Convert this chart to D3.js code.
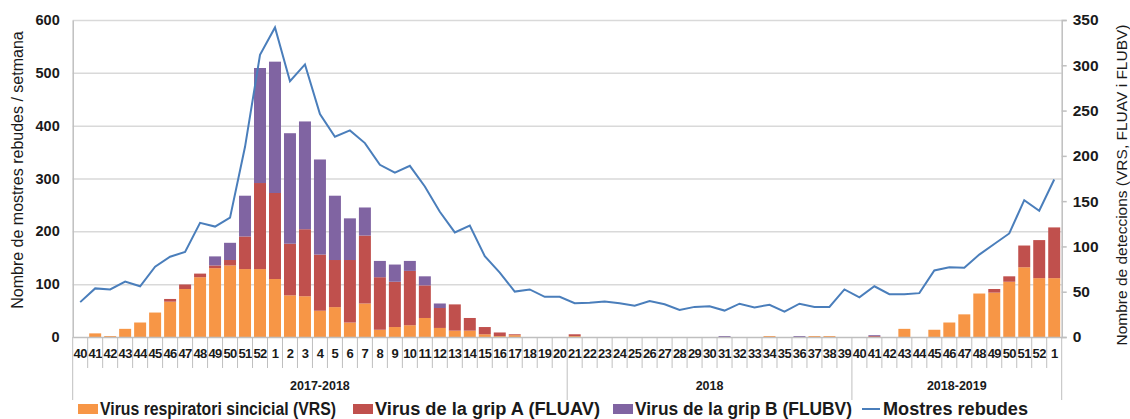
<!DOCTYPE html>
<html>
<head>
<meta charset="utf-8">
<script src="https://cdn.jsdelivr.net/npm/d3@7"></script>
<style>
  body { margin: 0; background: #fff; }
  svg { display: block; font-family: "Liberation Sans", Arial, sans-serif; }
</style>
</head>
<body>
<div id="chart"></div>
<script>
// week labels along the bottom
var weeks = [40,41,42,43,44,45,46,47,48,49,50,51,52,
  1,2,3,4,5,6,7,8,9,10,11,12,13,14,15,16,17,18,19,20,
  21,22,23,24,25,26,27,28,29,30,31,32,33,34,35,36,37,38,39,
  40,41,42,43,44,45,46,47,48,49,50,51,52,1];

// season groups under the weeks
var seasons = ["2017-2018", "2018", "2018-2019"];
var seasonSizes = [33, 19, 14];

// detections (right axis)
var vrs = [0,4,1,9,16,27,39,53,66,76,79,75,75,
  64,46,45,29,33,16,37,8,11,13,21,10,7,7,3,1,2,0,0,0,
  1,0,0,0,0,0,0,0,0,0,0,0,0,1,0,0,1,1,0,
  0,0,0,9,0,8,16,25,48,49,61,77,65,65];
var fluA = [0,0,0,0,0,0,3,5,4,3,6,36,95,
  95,57,74,62,52,69,75,58,50,60,36,22,29,14,8,4,1,0,0,0,
  2,0,0,0,0,0,0,0,0,0,0,0,0,0,0,0,0,0,0,
  0,1,0,0,0,0,0,0,0,4,6,24,42,56];
var fluB = [0,0,0,0,0,0,0,0,0,10,19,45,127,
  145,122,119,105,71,46,31,18,19,11,10,5,0,0,0,0,0,0,0,0,
  0,0,0,0,0,0,0,0,0,0,1,0,0,0,0,1,0,0,0,
  0,1,0,0,0,0,0,0,0,0,0,0,0,0];

// samples received (left axis)
var samples = [66,92,90,105,96,133,152,161,216,209,226,360,534,
  586,484,516,422,379,391,367,326,311,324,285,237,198,211,153,122,86,90,76,76,
  64,65,67,64,59,68,62,51,57,58,50,63,56,61,48,63,57,57,90,
  75,96,81,81,83,126,132,131,156,176,196,259,239,298];

var seriesNames = ["Virus respiratori sincicial (VRS)", "Virus de la grip A (FLUAV)", "Virus de la grip B (FLUBV)"];
var seriesColors = ["#f79646", "#c0504d", "#8064a2"];
var lineName = "Mostres rebudes";
var lineColor = "#4a7ebb";

var W = 1130, H = 419;
var plot = {left: 72.7, right: 1061.7, top: 20, bottom: 337};

var svg = d3.select("#chart").append("svg")
  .attr("width", W).attr("height", H);

var idx = d3.range(weeks.length);

//category slots and bars inside them
var xCat = d3.scaleBand().domain(idx).range([plot.left, plot.right]);
var x = d3.scaleBand().domain(idx).range([plot.left, plot.right]).paddingInner(0.2).paddingOuter(0.1);
var yL = d3.scaleLinear().domain([0, 600]).range([plot.bottom, plot.top]);
var yR = d3.scaleLinear().domain([0, 350]).range([plot.bottom, plot.top]);

// gridlines
svg.append("g")
  .attr("transform", "translate(" + plot.left + ",0)")
  .call(d3.axisLeft(yL).tickValues(d3.range(100, 601, 100)).tickSize(-(plot.right - plot.left)).tickFormat(""))
  .call(g => g.select(".domain").remove())
  .selectAll("line").attr("stroke", "#d9d9d9").attr("stroke-width", 1.5);

// stacked bars
var table = idx.map(i => ({i: i, vrs: vrs[i], fluA: fluA[i], fluB: fluB[i]}));
var stack = d3.stack().keys(["vrs", "fluA", "fluB"])(table);

svg.append("g").selectAll("g")
  .data(stack).join("g")
    .attr("fill", (d, k) => seriesColors[k])
  .selectAll("rect")
  .data(d => d.filter(p => p[1] > p[0])).join("rect")
    .attr("x", p => x(p.data.i))
    .attr("width", x.bandwidth())
    .attr("y", p => yR(p[1]))
    .attr("height", p => yR(p[0]) - yR(p[1]));

// left axis
svg.append("g")
  .attr("transform", "translate(" + plot.left + ",0)")
  .call(d3.axisLeft(yL).tickValues(d3.range(0, 601, 100)).tickSize(0).tickPadding(13))
  .call(g => g.select(".domain").attr("stroke", "#bfbfbf").attr("stroke-width", 1.5))
  .selectAll("text")
    .attr("font-size", 14.5).attr("font-weight", "bold").attr("fill", "#1a1a1a");

// right axis
svg.append("g")
  .attr("transform", "translate(" + plot.right + ",0)")
  .call(d3.axisRight(yR).tickValues(d3.range(0, 351, 50)).tickSize(5).tickPadding(6))
  .call(g => g.select(".domain").attr("stroke", "#bfbfbf").attr("stroke-width", 1.5))
  .call(g => g.selectAll("line").attr("stroke", "#bfbfbf").attr("stroke-width", 1.5))
  .selectAll("text")
    .attr("font-size", 15.5).attr("font-weight", "bold").attr("fill", "#1a1a1a");

// bottom category axis
var xAxis = svg.append("g")
  .attr("transform", "translate(0," + plot.bottom + ")")
  .call(d3.axisBottom(xCat).tickFormat(i => weeks[i]).tickSize(0).tickPadding(12));
xAxis.select(".domain").attr("stroke", "#bfbfbf").attr("stroke-width", 1.5);
xAxis.selectAll("text").attr("font-size", 13).attr("font-weight", "bold").attr("fill", "#1a1a1a")
  .attr("letter-spacing", -0.6);

// short separators between weeks, long ones between seasons
var bounds = d3.range(weeks.length + 1).map(i => plot.left + i * xCat.step());
var groupEdges = [0];
seasonSizes.forEach((n, k) => groupEdges.push(groupEdges[k] + n));

svg.append("g").selectAll("line")
  .data(bounds).join("line")
    .attr("x1", d => d).attr("x2", d => d)
    .attr("y1", plot.bottom)
    .attr("y2", (d, i) => groupEdges.indexOf(i) >= 0 ? 400 : 368)
    .attr("stroke", "#bfbfbf").attr("stroke-width", 1);

// season labels
svg.append("g").selectAll("text")
  .data(seasons).join("text")
    .attr("x", (d, k) => (bounds[groupEdges[k]] + bounds[groupEdges[k + 1]]) / 2)
    .attr("y", 390)
    .attr("text-anchor", "middle")
    .attr("font-size", 12.5).attr("font-weight", "bold").attr("fill", "#1a1a1a")
    .text(d => d);

// samples line
var line = d3.line()
  .x(i => xCat(i) + xCat.step() / 2)
  .y(i => yL(samples[i]));

svg.append("path")
  .datum(idx)
  .attr("d", line)
  .attr("fill", "none")
  .attr("stroke", lineColor)
  .attr("stroke-width", 2);

// axis titles
svg.append("text")
  .attr("transform", "translate(23,170) rotate(-90)")
  .attr("text-anchor", "middle")
  .attr("font-size", 16).attr("fill", "#1a1a1a")
  .text("Nombre de mostres rebudes / setmana");

svg.append("text")
  .attr("transform", "translate(1127,185) rotate(-90)")
  .attr("text-anchor", "middle")
  .attr("font-size", 15.5).attr("fill", "#1a1a1a")
  .text("Nombre de deteccions (VRS, FLUAV i FLUBV)");

// legend
var legendX = [78, 353, 613, 862];
var legendW = [236, 225, 217, 145];
var legend = svg.append("g").attr("font-size", 17.5).attr("font-weight", "bold").attr("fill", "#1a1a1a");

seriesNames.forEach(function(name, k) {
  legend.append("rect")
    .attr("x", legendX[k]).attr("y", 404)
    .attr("width", 20).attr("height", 10)
    .attr("fill", seriesColors[k]);
  legend.append("text")
    .attr("x", legendX[k] + 22).attr("y", 415)
    .attr("textLength", legendW[k]).attr("lengthAdjust", "spacingAndGlyphs")
    .text(name);
});
legend.append("line")
  .attr("x1", legendX[3]).attr("x2", legendX[3] + 18)
  .attr("y1", 409).attr("y2", 409)
  .attr("stroke", lineColor).attr("stroke-width", 2);
legend.append("text")
  .attr("x", legendX[3] + 21).attr("y", 415)
  .attr("textLength", legendW[3]).attr("lengthAdjust", "spacingAndGlyphs")
  .text(lineName);
</script>
</body>
</html>
